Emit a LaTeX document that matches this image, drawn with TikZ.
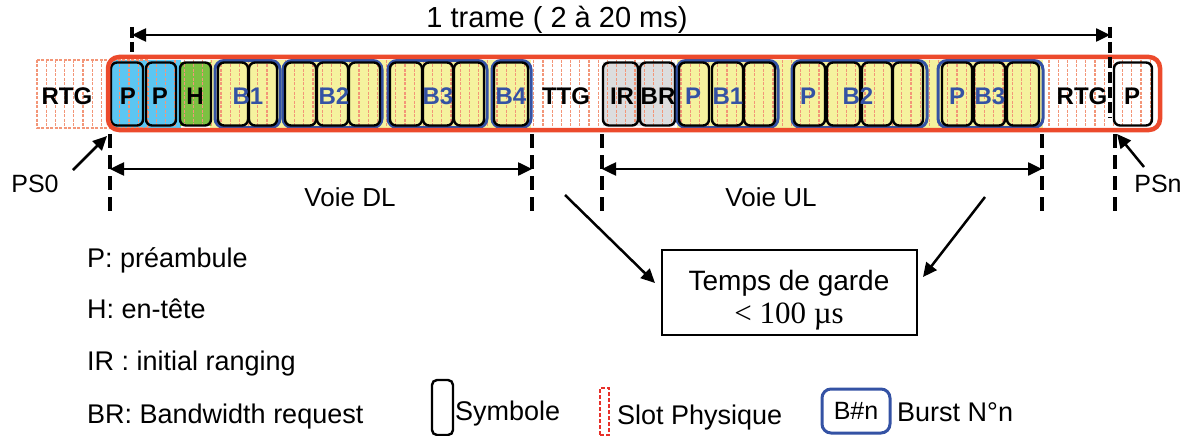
\documentclass[tikz,border=0pt]{standalone}
\usepackage{fontspec}
\setmainfont{Liberation Sans}
\newfontfamily\tnr{Liberation Serif}
\usetikzlibrary{arrows.meta}
\definecolor{framered}{RGB}{236,74,44}
\definecolor{slotc}{RGB}{243,150,120}
\definecolor{slotred}{RGB}{232,48,42}
\definecolor{ylw}{RGB}{245,242,158}
\definecolor{pblue}{RGB}{92,198,242}
\definecolor{hgreen}{RGB}{125,193,66}
\definecolor{gry}{RGB}{220,221,222}
\definecolor{burstblue}{RGB}{52,82,164}
\newcommand\SymB[4][]{\node[symb,#1,minimum width={(#4-#3)*1pt}] (#2) at ({(#3+#4)/2},94) {};}
\newcommand\BurstB[3]{\node[burst,minimum width={(#3-#2)*1pt}] (#1) at ({(#2+#3)/2},94) {};}
\begin{document}
\begin{tikzpicture}[x=1pt,y=-1pt,
  symb/.style={draw=black,line width=2.4pt,rounded corners=6pt,minimum height=63pt,inner sep=0pt},
  burst/.style={draw=burstblue,line width=3pt,rounded corners=9pt,minimum height=67pt,inner sep=0pt},
  slotline/.style={draw=slotc,line width=1.1pt,dash pattern=on 3pt off 1.5pt},
  lbl/.style={anchor=base,inner sep=0pt,font=\fontsize{24}{28}\selectfont\bfseries},
  blbl/.style={lbl,text=burstblue},
  txt/.style={inner sep=0pt,font=\fontsize{27}{32}\selectfont},
  vdash/.style={line width=3.5pt,dash pattern=on 14pt off 7pt},
  arr/.style={line width=2.5pt,-{Triangle[length=14pt,width=13pt]}},
  arrb/.style={line width=2.5pt,{Triangle[length=14pt,width=13pt]}-{Triangle[length=14pt,width=13pt]}},
  frame/.style={draw=framered,line width=4.5pt,rounded corners=11pt,inner sep=0pt}]
\useasboundingbox (0,0) rectangle (1189,436);
% background fills
\fill[pblue] (112,60) rectangle (181,128);
\fill[ylw] (210,60) rectangle (531,128);
\fill[ylw] (677,60) rectangle (1043,128);
\fill[hgreen] (180,62.5) rectangle (211,125.5);
\fill[gry] (603,62.5) rectangle (675,125.5);
% physical slots
\foreach \i in {0,...,121} \draw[slotline] ({37+9.2*\i},60) -- ({37+9.2*\i},127);
\draw[slotline] (37,60) rectangle (148,128);
% DL symbols
\SymB{p1}{111}{143}
\SymB{p2}{146}{176}
\SymB{h}{180}{211}
\BurstB{db1}{215}{280}
\SymB{db1a}{218}{248}
\SymB{db1b}{249}{277}
\BurstB{db2}{283}{382}
\SymB{db2a}{285}{316}
\SymB{db2b}{317}{348}
\SymB{db2c}{349}{380}
\BurstB{db3}{388}{487}
\SymB{db3a}{390}{422}
\SymB{db3b}{423}{453}
\SymB{db3c}{454}{484}
\BurstB{db4}{492}{531}
\SymB{db4a}{494}{528}
% UL symbols
\SymB{ir}{603}{638}
\SymB{br}{640}{675}
\BurstB{ub1}{677}{778}
\SymB{ub1a}{679}{709}
\SymB{ub1b}{712}{743}
\SymB{ub1c}{744}{775}
\BurstB{ub2}{792}{927}
\SymB{ub2a}{794}{825}
\SymB{ub2b}{827}{860}
\SymB{ub2c}{862}{892}
\SymB{ub2d}{893}{923}
\BurstB{ub3}{938}{1043}
\SymB{ub3a}{942}{972}
\SymB{ub3b}{974}{1005}
\SymB{ub3c}{1007}{1039}
\SymB{pn}{1114}{1152}
% labels in frame
\node[lbl] (lrtg0) at (67,104) {RTG};
\node[lbl] (lp1) at (128,104) {P};
\node[lbl] (lp2) at (160,104) {P};
\node[lbl] (lh) at (195,104) {H};
\node[blbl] (lb1) at (248,104) {B1};
\node[blbl] (lb2) at (334,104) {B2};
\node[blbl] (lb3) at (438,104) {B3};
\node[blbl] (lb4) at (511,104) {B4};
\node[lbl] (lttg) at (566,104) {TTG};
\node[lbl] (lir) at (622,104) {IR};
\node[lbl] (lbr) at (658,104) {BR};
\node[blbl] (lup1) at (693,104) {P};
\node[blbl] (lub1) at (728,104) {B1};
\node[blbl] (lup2) at (808,104) {P};
\node[blbl] (lub2) at (858,104) {B2};
\node[blbl] (lup3) at (957,104) {P};
\node[blbl] (lub3) at (990,104) {B3};
\node[lbl] (lrtg1) at (1082,104) {RTG};
\node[lbl] (lpn) at (1132,104) {P};
% frame
\node[frame,minimum width=1052pt,minimum height=73pt] (fr) at (634,93.5) {};
% dashed markers
\coordinate (tl1) at (132,27); \coordinate (tl2) at (132,52);
\coordinate (tr1) at (1110,27); \coordinate (tr2) at (1110,118);
\draw[vdash,dash pattern=on 11pt off 4pt] (tl1) -- (tl2);
\draw[vdash,dash pattern=on 11pt off 4pt] (tr1) -- (tr2);
\coordinate (d1a) at (110,134); \coordinate (d1b) at (110,212);
\coordinate (d2a) at (532,134); \coordinate (d2b) at (532,212);
\coordinate (d3a) at (602,134); \coordinate (d3b) at (602,212);
\coordinate (d4a) at (1042,134); \coordinate (d4b) at (1042,212);
\coordinate (d5a) at (1115,134); \coordinate (d5b) at (1115,212);
\foreach \a/\b in {d1a/d1b,d2a/d2b,d3a/d3b,d4a/d4b,d5a/d5b} \draw[vdash] (\a) -- (\b);
% arrows with dimensions
\draw[arrb] (132,35) coordinate (ta) -- (1110,35) coordinate (tb);
\node[txt,anchor=base,font=\fontsize{29}{34}\selectfont] (trame) at (557,28) {1 trame ( 2 à 20 ms)};
\draw[arrb] (110,169) coordinate (dla) -- (532,169) coordinate (dlb);
\node[txt,anchor=base,font=\fontsize{26}{30}\selectfont] (voiedl) at (350,206) {Voie DL};
\draw[arrb] (602,169) coordinate (ula) -- (1042,169) coordinate (ulb);
\node[txt,anchor=base,font=\fontsize{26}{30}\selectfont] (voieul) at (771,206) {Voie UL};
% PS0 / PSn
\node[txt,anchor=base,font=\fontsize{25}{30}\selectfont] (ps0) at (35,192) {PS0};
\coordinate (ps0s) at (73,170); \coordinate (ps0e) at (107,136);
\draw[arr] (ps0s) -- (ps0e);
\node[txt,anchor=base,font=\fontsize{25}{30}\selectfont] (psn) at (1158,192) {PSn};
\coordinate (psns) at (1144,167); \coordinate (psne) at (1117,134);
\draw[arr] (psns) -- (psne);
% guard time box
\node[draw,line width=1.3pt,minimum width=255pt,minimum height=85pt,inner sep=0pt] (tg) at (789.5,292.5) {};
\node[txt,anchor=base,font=\fontsize{28}{32}\selectfont] (tgt1) at (789,290) {Temps de garde};
\node[inner sep=0pt,anchor=base,font=\tnr\fontsize{31}{34}\selectfont] (tgt2) at (789,323) {< 100 µs};
\coordinate (g1s) at (565,195); \coordinate (g1e) at (655,283);
\coordinate (g2s) at (985,197); \coordinate (g2e) at (923,277);
\draw[arr] (g1s) -- (g1e);
\draw[arr] (g2s) -- (g2e);
% legend
\node[txt,anchor=base west] (lg1) at (87,267) {P: préambule};
\node[txt,anchor=base west] (lg2) at (87,318) {H: en-tête};
\node[txt,anchor=base west] (lg3) at (87,370) {IR : initial ranging};
\node[txt,anchor=base west] (lg4) at (87,423) {BR: Bandwidth request};
\node[symb,minimum width=21pt,minimum height=55pt,rounded corners=5pt] (legsym) at (442.5,407.5) {};
\node[txt,anchor=base west] (lgsym) at (455,420) {Symbole};
\node[draw=slotred,dash pattern=on 4pt off 2pt,line width=1.8pt,minimum width=9pt,minimum height=47pt,inner sep=0pt] (legslot) at (604.5,411.5) {};
\node[txt,anchor=base west] (lgslot) at (617,424) {Slot Physique};
\node[burst,minimum width=68pt,minimum height=44pt,font=\fontsize{25}{30}\selectfont] (legburst) at (856,411) {B\#n};
\node[txt,anchor=base west] (lgburst) at (897,421) {Burst N°n};
\end{tikzpicture}
\end{document}
